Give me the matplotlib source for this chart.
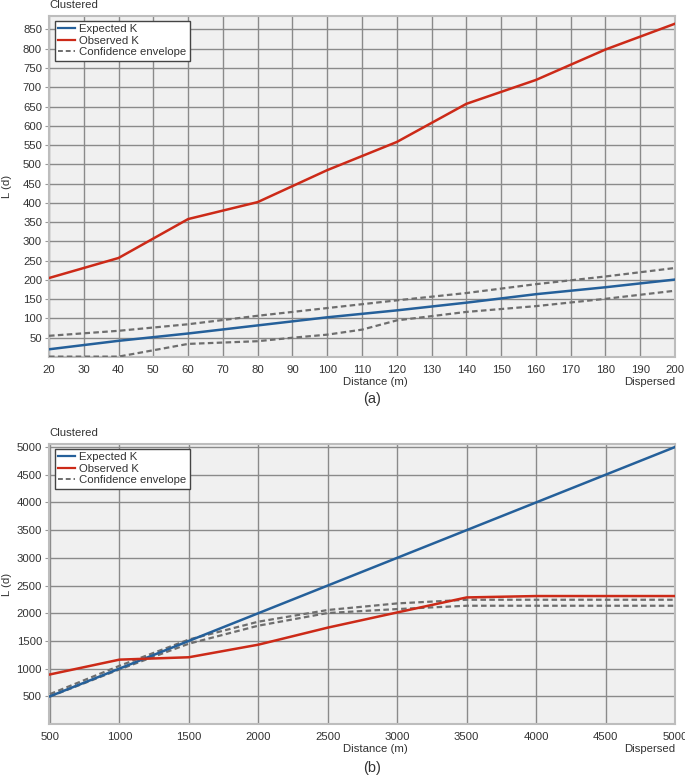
import matplotlib
matplotlib.use("Agg")
import matplotlib.pyplot as plt
from matplotlib.lines import Line2D

plt.rcParams['font.family'] = ['Liberation Sans', 'DejaVu Sans']

# Panel (a)
a_x = [20, 40, 60, 80, 100, 120, 140, 160, 180, 200]
a_expected = [20, 42, 61, 82, 103, 121, 141, 163, 181, 201]
a_obs_x = [20, 40, 60, 80, 100, 120, 140, 160, 180, 200]
a_observed = [205, 257, 358, 402, 485, 558, 657, 719, 798, 865]
a_upper = [55, 68, 85, 107, 127, 147, 166, 189, 209, 231]
a_low_x = [20, 40, 60, 80, 90, 100, 110, 120, 140, 160, 180, 200]
a_lower = [1, 1, 34, 41, 50, 58, 71, 95, 117, 132, 151, 172]
a_xticks = list(range(20, 201, 10))
a_yticks = list(range(50, 851, 50))

# Panel (b)
b_x = [500, 1000, 1500, 2000, 2500, 3000, 3500, 4000, 4500, 5000]
b_expected = [500, 1000, 1500, 2000, 2500, 3000, 3500, 4000, 4500, 5000]
b_observed = [895, 1162, 1205, 1432, 1740, 2014, 2285, 2310, 2310, 2310]
b_upper = [540, 1050, 1525, 1847, 2058, 2177, 2243, 2243, 2243, 2243]
b_lower = [495, 985, 1450, 1775, 2004, 2075, 2135, 2135, 2135, 2135]
b_xticks = list(range(500, 5001, 500))
b_yticks = list(range(500, 5001, 500))

BLUE = "#25609a"
RED = "#cc2a18"
GRAY = "#6e6e6e"
TXT = "#333333"
FS = 8.2

W, H = 685, 778
fig = plt.figure(figsize=(6.85, 7.78), dpi=100)
ax1 = fig.add_axes([49/W, 1-357/H, 626/W, 341/H])
ax2 = fig.add_axes([49/W, 1-724/H, 626/W, 280/H])

def style(ax, xlim, ylim, xt, yt, top_px, bot_px):
    ax.set_facecolor("#f0f0f0")
    ax.set_xlim(*xlim)
    ax.set_ylim(*ylim)
    ax.set_xticks(xt)
    ax.set_yticks(yt)
    ax.grid(True, color="#8a8a8a", linewidth=1.0)
    ax.set_axisbelow(True)
    for s in ax.spines.values():
        s.set_color("#bdbdbd")
        s.set_linewidth(1.5)
    ax.tick_params(axis="both", labelsize=FS, colors=TXT, length=3, color="#999999", pad=2)
    ax.tick_params(axis="x", length=0, pad=6)
    for lbl in ax.get_xticklabels() + ax.get_yticklabels():
        lbl.set_color(TXT)
    fig.text(7/W, 1 - (top_px + bot_px) / 2 / H, "L (d)", rotation=90, ha="center",
             va="center", fontsize=FS, color=TXT)
    ly = 1 - (bot_px + 25) / H
    fig.text(343/W, ly, "Distance (m)", ha="left", va="center", fontsize=FS, color=TXT)
    fig.text(675/W, ly, "Dispersed", ha="right", va="center", fontsize=FS, color=TXT)
    fig.text(49/W, 1 - (top_px - 11) / H, "Clustered", ha="left", va="center",
             fontsize=FS, color=TXT)
    handles = [Line2D([], [], color=BLUE, lw=1.6),
               Line2D([], [], color=RED, lw=1.6),
               Line2D([], [], color=GRAY, lw=1.4, ls=(0, (2.5, 1.5)))]
    hpx = bot_px - top_px
    leg = ax.legend(handles, ["Expected K", "Observed K", "Confidence envelope"],
                    loc="upper left", bbox_to_anchor=(6/626, 1 - 5/hpx), fontsize=FS,
                    fancybox=False, framealpha=1, edgecolor="#444444",
                    handlelength=1.5, handletextpad=0.35, borderpad=0.3,
                    labelspacing=0.12, borderaxespad=0.0)
    leg.get_frame().set_linewidth(1.0)
    for t in leg.get_texts():
        t.set_color(TXT)

# (a)
ax1.plot(a_x, a_upper, color=GRAY, lw=1.6, ls=(0, (2.5, 1.5)), zorder=3)
ax1.plot(a_low_x, a_lower, color=GRAY, lw=1.6, ls=(0, (2.5, 1.5)), zorder=3)
ax1.plot(a_x, a_expected, color=BLUE, lw=1.8, zorder=4)
ax1.plot(a_obs_x, a_observed, color=RED, lw=1.8, zorder=5)
style(ax1, (20, 200), (0, 885), a_xticks, a_yticks, 16, 357)

# (b)
ax2.plot(b_x, b_upper, color=GRAY, lw=1.6, ls=(0, (2.5, 1.5)), zorder=3)
ax2.plot(b_x, b_lower, color=GRAY, lw=1.6, ls=(0, (2.5, 1.5)), zorder=3)
ax2.plot(b_x, b_expected, color=BLUE, lw=1.8, zorder=4)
ax2.plot(b_x, b_observed, color=RED, lw=1.8, zorder=5)
style(ax2, (493, 5000), (0, 5055), b_xticks, b_yticks, 444, 724)

fig.text(372/W, 1-399/H, "(a)", ha="center", va="center", fontsize=10.5, color=TXT)
fig.text(372/W, 1-768/H, "(b)", ha="center", va="center", fontsize=10.5, color=TXT)

fig.savefig("out.png", dpi=100)
